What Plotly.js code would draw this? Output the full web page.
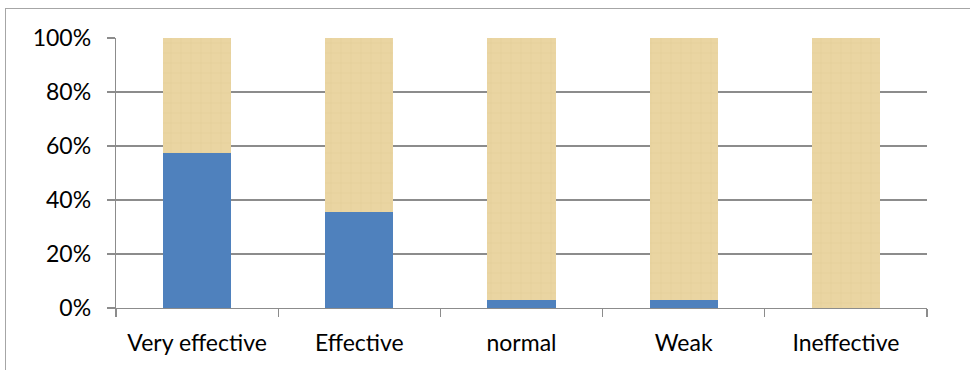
<!DOCTYPE html>
<html>
<head>
<meta charset="utf-8">
<script src="https://cdn.plot.ly/plotly-3.0.1.min.js"></script>
<style>
  html, body { margin: 0; padding: 0; background: #ffffff; }
  #wrap { position: relative; width: 970px; height: 370px; overflow: hidden; }
  #frame { position: absolute; left: 5px; top: 8px; width: 1000px; height: 400px;
           border: 1px solid #a6a6a6; box-sizing: border-box; pointer-events: none; }
  #chart { position: absolute; left: 0; top: 0; width: 970px; height: 370px; }
</style>
</head>
<body>
<div id="wrap">
  <div id="chart"></div>
  <div id="frame"></div>
</div>
<script>
// Ratings of effectiveness, shares in percent
const categories = ["Very effective", "Effective", "normal", "Weak", "Ineffective"];
const agreeShare = [57.5, 35.7, 3, 3, 0];
const restShare = [42.5, 64.3, 97, 97, 100];
const yTickValues = [0, 20, 40, 60, 80, 100];
const yTickLabels = ["0%", "20%", "40%", "60%", "80%", "100%"];

const gridColor = "#8c8c8c";
const fontFamily = "Lato, 'Open Sans', 'DejaVu Sans', sans-serif";
const labelFont = { family: fontFamily, size: 23, color: "#000000" };

const traces = [
  {
    type: "bar",
    x: categories,
    y: agreeShare,
    marker: { color: "#4f81bd", line: { width: 0 } },
    hoverinfo: "skip"
  },
  {
    type: "bar",
    x: categories,
    y: restShare,
    marker: {
      color: "#ead5a2",
      line: { width: 0 },
      // light papyrus-like weave over the tan fill
      pattern: { shape: "+", fillmode: "overlay", fgcolor: "#d2b87c", fgopacity: 0.35, size: 10, solidity: 0.1 }
    },
    hoverinfo: "skip"
  }
];

const layout = {
  width: 970,
  height: 370,
  barmode: "stack",
  bargap: 0.58,
  showlegend: false,
  paper_bgcolor: "rgba(0,0,0,0)",
  plot_bgcolor: "rgba(0,0,0,0)",
  margin: { l: 116, r: 43, t: 38, b: 62, pad: 0 },
  font: labelFont,
  xaxis: {
    type: "category",
    tickson: "boundaries",
    ticks: "outside",
    ticklen: 8,
    tickcolor: gridColor,
    tickwidth: 1.3,
    ticklabelstandoff: 14,
    showgrid: false,
    showline: true,
    linecolor: gridColor,
    linewidth: 1.3,
    tickfont: labelFont,
    fixedrange: true
  },
  yaxis: {
    range: [0, 100],
    tickvals: yTickValues,
    ticktext: yTickLabels,
    ticks: "outside",
    ticklen: 8,
    tickcolor: gridColor,
    tickwidth: 1.3,
    ticklabelstandoff: 11,
    showgrid: true,
    gridcolor: gridColor,
    gridwidth: 1.3,
    showline: true,
    linecolor: gridColor,
    linewidth: 1.3,
    zeroline: false,
    tickfont: labelFont,
    fixedrange: true
  }
};

Plotly.newPlot("chart", traces, layout, { displayModeBar: false, staticPlot: true });
</script>
</body>
</html>
